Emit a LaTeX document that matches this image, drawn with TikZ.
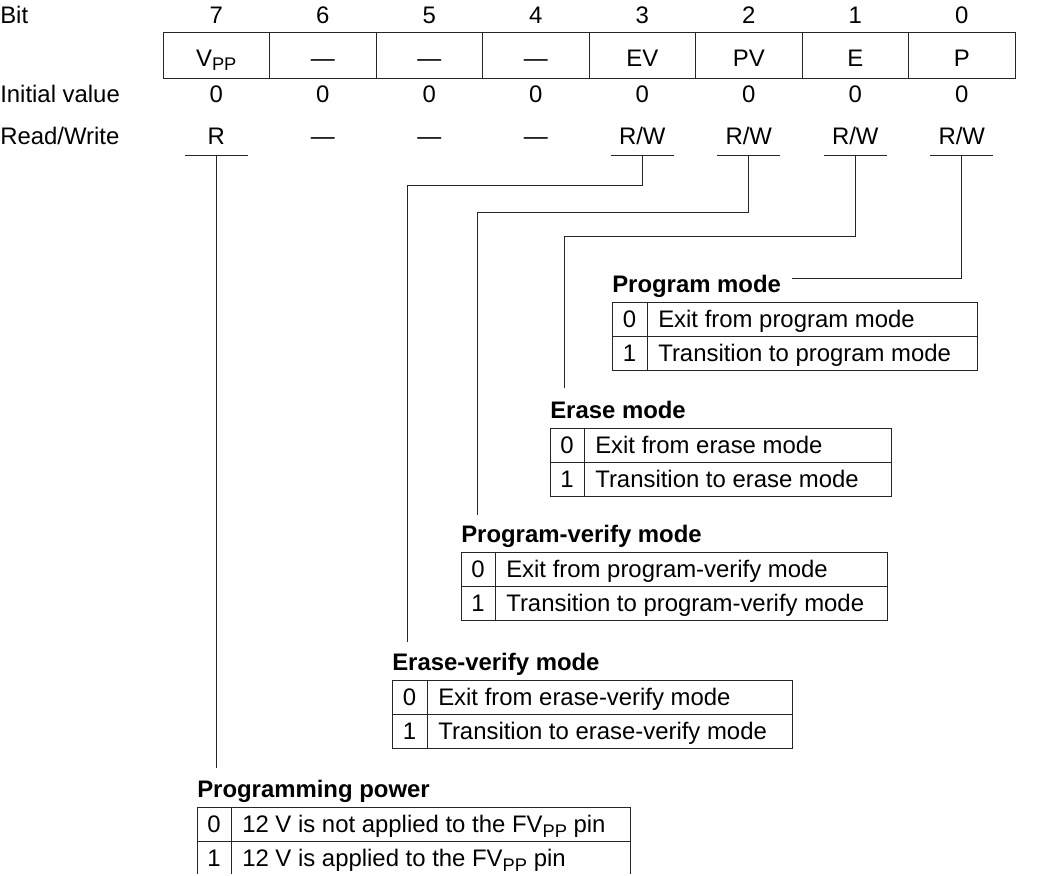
\documentclass[tikz,border=0pt]{standalone}
\usepackage{fontspec}
\setmainfont{Liberation Sans}
\newcommand{\vsub}[1]{\raisebox{-3.5pt}{\fontsize{13}{15}\selectfont #1}}
\begin{document}
\begin{tikzpicture}[x=0.025cm, y=-0.025cm,
  lbl/.style={inner sep=0pt, anchor=base, font=\fontsize{17}{20}\selectfont},
  head/.style={lbl, anchor=base west, font=\fontsize{17}{20}\selectfont\bfseries},
  rule/.style={draw=black!85, line width=0.7pt}
]
\useasboundingbox (0,0) rectangle (1046,875);
\clip (-1,-1) rectangle (1047,873.5);

% register
\node[lbl, anchor=base west] (bitlbl) at (0,23) {Bit};
\node[lbl, anchor=base west] (initlbl) at (0,102) {Initial value};
\node[lbl, anchor=base west] (rwlbl) at (0,144) {Read/Write};
\draw[rule] (163,32) rectangle (1015,78);
\foreach \i in {1,...,7}
  \draw[rule] (163+106.5*\i,32) -- (163+106.5*\i,78);
\foreach \i [evaluate=\i as \b using int(7-\i)] in {0,...,7} {
  \node[lbl] (bit\b) at (216.25+106.5*\i,23) {\b};
  \node[lbl] (init\b) at (216.25+106.5*\i,102) {0};
}
\foreach \n [count=\i from 0] in {V\vsub{PP}, —, —, —, EV, PV, E, P}
  \node[lbl] (cell\i) at (216.25+106.5*\i,66) {\n};
\foreach \v [count=\i from 0] in {R, —, —, —, R/W, R/W, R/W, R/W}
  \node[lbl] (rw\i) at (216.25+106.5*\i,144) {\v};
\foreach \i/\b in {0/7, 4/3, 5/2, 6/1, 7/0} {
  \coordinate (u\b) at (216.25+106.5*\i,155);
  \draw[rule] (184.75+106.5*\i,155) -- (247.75+106.5*\i,155);
}

% mode tables
\foreach \l/\d/\r/\t/\ttl/\offtxt/\ontxt [count=\k] in {
  612/647/977/302/Program mode/Exit from program mode/Transition to program mode,
  550/584/891/428/Erase mode/Exit from erase mode/Transition to erase mode,
  461/495/887/552/Program-verify mode/Exit from program-verify mode/Transition to program-verify mode,
  392/427/792/680/Erase-verify mode/Exit from erase-verify mode/Transition to erase-verify mode,
  197/231/630/807/Programming power/12 V is not applied to the FV\vsub{PP} pin/12 V is applied to the FV\vsub{PP} pin}
{
  \node[head] (mode\k) at (\l,\t-10) {\ttl};
  \draw[rule] (\l,\t) rectangle (\r,\t+68) (\l,\t+34) -- (\r,\t+34) (\d,\t) -- (\d,\t+68);
  \node[lbl] (off\k) at ({(\l+\d)/2},\t+25.6) {0};
  \node[lbl, anchor=base west] (offtxt\k) at (\d+11,\t+25.6) {\offtxt};
  \node[lbl] (on\k) at ({(\l+\d)/2},\t+59.6) {1};
  \node[lbl, anchor=base west] (ontxt\k) at (\d+11,\t+59.6) {\ontxt};
}

% connectors
\coordinate (k0) at (792,278);
\coordinate (k1) at (564,388);
\coordinate (k2) at (477,515);
\coordinate (k3) at (407,642);
\coordinate (k7) at (216.25,768);
\draw[rule] (u0) |- (k0);
\draw[rule] (u1) -- ++(0,81) -| (k1);
\draw[rule] (u2) -- ++(0,57) -| (k2);
\draw[rule] (u3) -- ++(0,30) -| (k3);
\draw[rule] (u7) -- (k7);
\end{tikzpicture}
\end{document}
